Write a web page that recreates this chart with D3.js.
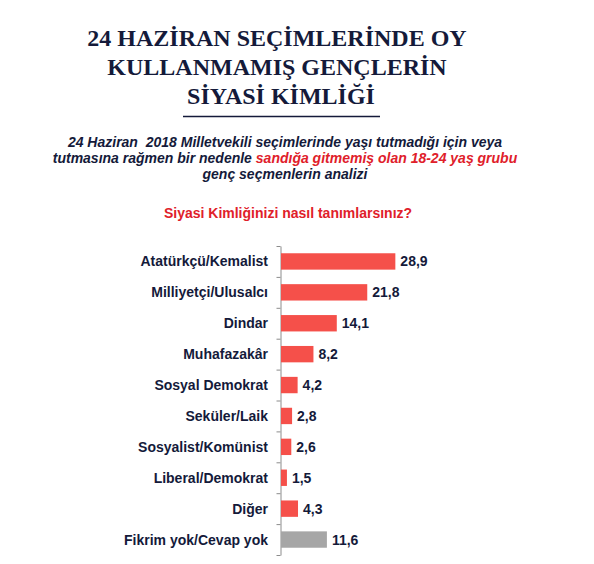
<!DOCTYPE html>
<html>
<head>
<meta charset="utf-8">
<script src="https://cdn.jsdelivr.net/npm/d3@7"></script>
<style>
  body { margin: 0; background: #fff; }
</style>
</head>
<body>
<div id="chart"></div>
<script>
// Data
const categories = [
    'Atatürkçü/Kemalist', 'Milliyetçi/Ulusalcı', 'Dindar', 'Muhafazakâr',
    'Sosyal Demokrat', 'Seküler/Laik', 'Sosyalist/Komünist', 'Liberal/Demokrat',
    'Diğer', 'Fikrim yok/Cevap yok'
];
const values = [28.9, 21.8, 14.1, 8.2, 4.2, 2.8, 2.6, 1.5, 4.3, 11.6];
const titleLines = ['24 HAZİRAN SEÇİMLERİNDE OY', 'KULLANMAMIŞ GENÇLERİN', 'SİYASİ KİMLİĞİ'];
const question = 'Siyasi Kimliğinizi nasıl tanımlarsınız?';

// Dimensions
const width = 594;
const height = 564;
const navy = '#141a3a';
const red = '#e0202a';
const barRed = '#f5504a';
const barGray = '#a6a6a6';

const svg = d3.select('#chart')
    .append('svg')
    .attr('width', width)
    .attr('height', height);

// Title
svg.selectAll('.title')
    .data(titleLines)
    .enter()
    .append('text')
    .attr('class', 'title')
    .attr('x', (d, i) => i === 2 ? 281 : 277)
    .attr('y', (d, i) => 46 + i * 29)
    .attr('text-anchor', 'middle')
    .attr('font-family', '"Liberation Serif", "Times New Roman", serif')
    .attr('font-weight', 'bold')
    .attr('font-size', 24)
    .attr('fill', navy)
    .text(d => d);

svg.append('line')
    .attr('x1', 183).attr('x2', 380)
    .attr('y1', 116.5).attr('y2', 116.5)
    .attr('stroke', navy)
    .attr('stroke-width', 1.5);

// Subtitle
const sub = svg.append('g')
    .attr('font-family', '"Liberation Sans", Arial, sans-serif')
    .attr('font-weight', 'bold')
    .attr('font-style', 'italic')
    .attr('font-size', 14)
    .attr('fill', navy)
    .attr('text-anchor', 'middle');

sub.append('text').attr('x', 285).attr('y', 147)
    .text('24 Haziran  2018 Milletvekili seçimlerinde yaşı tutmadığı için veya')
    .attr('xml:space', 'preserve')
    .style('white-space', 'pre');

const line2 = sub.append('text').attr('x', 285).attr('y', 163);
line2.append('tspan').text('tutmasına rağmen bir nedenle ');
line2.append('tspan').attr('fill', red).text('sandığa gitmemiş olan 18-24 yaş grubu');

sub.append('text').attr('x', 285).attr('y', 179).text('genç seçmenlerin analizi');

svg.append('text')
    .attr('x', 288)
    .attr('y', 218)
    .attr('text-anchor', 'middle')
    .attr('font-family', '"Liberation Sans", Arial, sans-serif')
    .attr('font-weight', 'bold')
    .attr('font-size', 14)
    .attr('fill', red)
    .text(question);

// Scales
const yScale = d3.scaleBand()
    .domain(categories)
    .range([246, 555])
    .paddingInner(0.47)
    .paddingOuter(0.235);

const xScale = d3.scaleLinear()
    .domain([0, 30])
    .range([281, 399.7]);

// Axis with ticks between categories
const boundary = d3.scaleLinear()
    .domain([0, categories.length])
    .range([246, 555]);

svg.append('g')
    .attr('class', 'y-axis')
    .attr('transform', 'translate(280.5, 0)')
    .call(d3.axisLeft(boundary).ticks(categories.length).tickSize(4).tickSizeOuter(0).tickFormat(''))
    .call(g => g.selectAll('line, path').attr('stroke', '#8c8c8c'));

// Bars
svg.selectAll('.bar')
    .data(values)
    .enter()
    .append('rect')
    .attr('class', 'bar')
    .attr('x', xScale(0))
    .attr('y', (d, i) => yScale(categories[i]))
    .attr('width', d => xScale(d) - xScale(0))
    .attr('height', yScale.bandwidth())
    .attr('fill', (d, i) => categories[i] === 'Fikrim yok/Cevap yok' ? barGray : barRed);

// Category labels
svg.selectAll('.cat')
    .data(categories)
    .enter()
    .append('text')
    .attr('class', 'cat')
    .attr('x', 268)
    .attr('y', d => yScale(d) + yScale.bandwidth() / 2)
    .attr('dy', '0.36em')
    .attr('text-anchor', 'end')
    .attr('font-family', '"Liberation Sans", Arial, sans-serif')
    .attr('font-weight', 'bold')
    .attr('font-size', 14)
    .attr('fill', navy)
    .text(d => d);

// Value labels
svg.selectAll('.val')
    .data(values)
    .enter()
    .append('text')
    .attr('class', 'val')
    .attr('x', d => xScale(d) + 5)
    .attr('y', (d, i) => yScale(categories[i]) + yScale.bandwidth() / 2)
    .attr('dy', '0.36em')
    .attr('font-family', '"Liberation Sans", Arial, sans-serif')
    .attr('font-weight', 'bold')
    .attr('font-size', 14)
    .attr('fill', navy)
    .text(d => d3.format('.1f')(d).replace('.', ','));
</script>
</body>
</html>
